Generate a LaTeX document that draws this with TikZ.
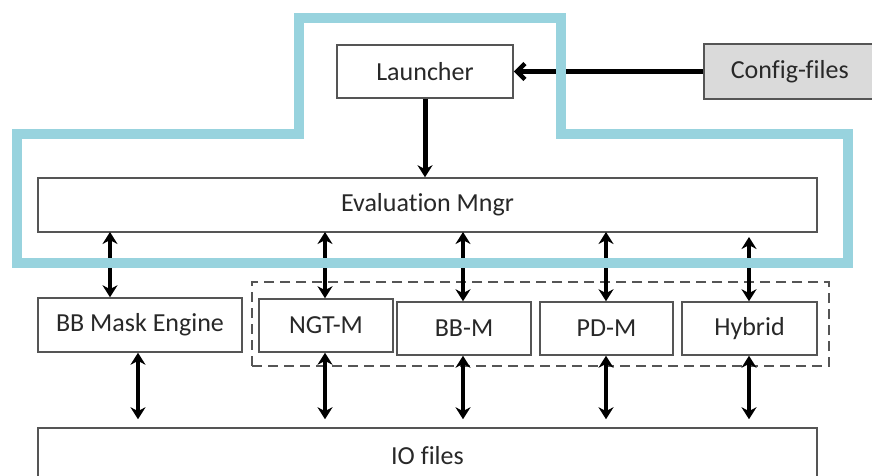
\documentclass[tikz,border=0pt]{standalone}
\usepackage{fontspec}
\setmainfont[Ligatures=NoCommon]{Carlito}
\usetikzlibrary{arrows.meta}
\definecolor{frameblue}{RGB}{152,211,222}
\definecolor{boxline}{RGB}{85,85,85}
\definecolor{cfgfill}{RGB}{218,218,218}
\definecolor{txt}{RGB}{40,40,40}
\tikzset{
  blk/.style={draw=boxline, line width=1.5pt, fill=white, inner sep=0pt,
    text=txt, font=\fontsize{26}{30}\selectfont},
  link/.style={line width=5pt, -{Stealth[length=12pt,width=15pt]}},
  both/.style={line width=4.5pt, {Stealth[length=12pt,width=15pt]}-{Stealth[length=12pt,width=15pt]}},
  group/.style={draw=boxline, line width=1.5pt, dash pattern=on 10pt off 6pt},
}
\begin{document}
\begin{tikzpicture}[x=1pt,y=-1pt]
\useasboundingbox (0,0) rectangle (872,476);
% boxes
\node[blk, minimum width=176pt, minimum height=53pt] (launch) at (425,71.5) {Launcher};
\node[blk, fill=cfgfill, minimum width=180pt, minimum height=55pt, anchor=west] (cfg) at (703,71.5) {\hspace*{-8pt}Config-files};
\node[blk, minimum width=779pt, minimum height=54pt] (eval) at (427.5,205) {Evaluation Mngr};
\node[group, minimum width=577pt, minimum height=84pt, inner sep=0pt] (grp) at (540.5,324) {};
\node[blk, minimum width=204pt, minimum height=54pt] (bbmask) at (140,325) {BB Mask Engine};
\node[blk, minimum width=134pt, minimum height=53pt] (ngt) at (326,325.5) {NGT-M};
\node[blk, minimum width=134pt, minimum height=53pt] (bbm) at (464,328.5) {BB-M};
\node[blk, minimum width=133pt, minimum height=53pt] (pdm) at (606.5,328.5) {PD-M};
\node[blk, minimum width=135pt, minimum height=53pt] (hyb) at (749.5,328.5) {Hybrid};
\node[blk, minimum width=779pt, minimum height=56pt] (io) at (427.5,456) {IO files};
% control flow
\draw[line width=5pt, -{Straight Barb[length=8pt,width=16pt,line width=4.5pt]}] (cfg.west) -- (launch.east);
\draw[link] (launch.south) -- (launch.south |- eval.north);
% upper links (evaluation manager <-> modules)
\draw[both] (110,232) -- (bbmask.north -| 110,0);
\draw[both] (325,232) -- (ngt.north -| 325,0);
\draw[both] (463,232) -- (bbm.north -| 463,0);
\draw[both] (606,232) -- (pdm.north -| 606,0);
\draw[both] (749,237) -- (hyb.north -| 749,0);
% lower links (modules <-> IO files)
\draw[both, shorten >=8pt] (bbmask.south -| 138,0) -- (io.north -| 138,0);
\draw[both, shorten >=8pt] (ngt.south -| 325,0) -- (io.north -| 325,0);
\draw[both, shorten >=8pt] (bbm.south -| 463,0) -- (io.north -| 463,0);
\draw[both, shorten >=8pt] (pdm.south -| 606,0) -- (io.north -| 606,0);
\draw[both, shorten >=8pt] (hyb.south -| 749,0) -- (io.north -| 749,0);
% outline of the core block
\draw[frameblue, line width=10pt, line join=miter]
  (17,263) -- (17,134) -- (298.5,134) -- (298.5,18) -- (560.5,18)
  -- (560.5,134) -- (848,134) -- (848,263) -- cycle;
\end{tikzpicture}
\end{document}
